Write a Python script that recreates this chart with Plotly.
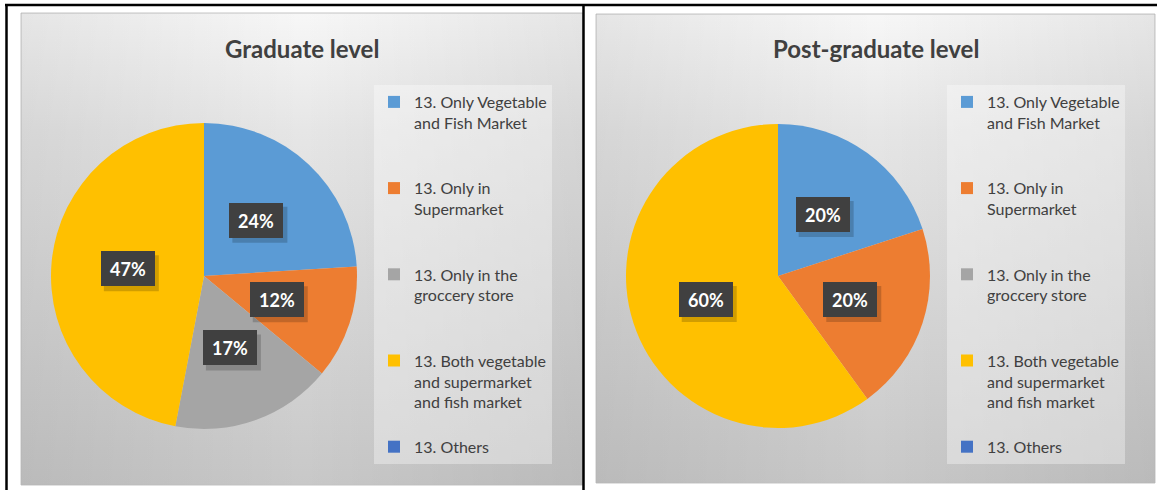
import math
import plotly.graph_objects as go

# ---------------- data ----------------
categories = [
    "13. Only Vegetable and Fish Market",
    "13. Only in Supermarket",
    "13. Only in the groccery store",
    "13. Both vegetable and supermarket and fish market",
    "13. Others",
]
legend_lines = [
    ["13. Only Vegetable", "and Fish Market"],
    ["13. Only in", "Supermarket"],
    ["13. Only in the", "groccery store"],
    ["13. Both vegetable", "and supermarket", "and fish market"],
    ["13. Others"],
]
graduate_values = [24, 12, 17, 47, 0]
postgraduate_values = [20, 20, 0, 60, 0]
panel_titles = ["Graduate level", "Post-graduate level"]
slice_colors = ["#5B9BD5", "#ED7D31", "#A5A5A5", "#FFC000", "#4472C4"]

# ---------------- layout constants (pixels) ----------------
W, H = 1157, 490
FONT = "Lato, 'Open Sans', sans-serif"
TXT = "#404040"

panels = [  # x0, y0, x1, y1
    (21, 13, 583, 485),
    (596, 14, 1155, 483),
]
pie_geo = [  # center x, center y, radius
    (204, 276, 153),
    (778, 276, 152),
]
legend_pos = [(374, 85), (947, 85)]
title_pos = [(302, 49), (876, 49)]


def px(x):
    return x / W


def py(y):
    return 1 - y / H


def pad_label(lines, n, suffix=""):
    lines = list(lines) + ["\u00a0"] * (n - len(lines))
    return "<br>".join(lines) + suffix


fig = go.Figure()

# panel backgrounds (gradient fills on hidden pixel axes)
for (x0, y0, x1, y1) in panels:
    xs = [x0, x1, x1, x0, x0]
    ys = [y0, y0, y1, y1, y0]
    fig.add_trace(go.Scatter(
        x=xs, y=ys, mode="lines", fill="toself",
        line=dict(color="#c4c4c4", width=1),
        fillgradient=dict(type="vertical", start=y0, stop=y1,
                          colorscale=[[0, "#f7f7f7"], [0.25, "#e6e6e6"], [1, "#c8c8c8"]]),
        hoverinfo="skip", showlegend=False,
    ))
    fig.add_trace(go.Scatter(
        x=xs, y=ys, mode="lines", fill="toself",
        line=dict(color="rgba(0,0,0,0)", width=0),
        fillgradient=dict(type="horizontal", start=x0, stop=x1,
                          colorscale=[[0, "rgba(0,0,0,0.07)"], [0.5, "rgba(0,0,0,0)"],
                                      [1, "rgba(0,0,0,0.07)"]]),
        hoverinfo="skip", showlegend=False,
    ))

# pies
annotations = []
shapes = []
BOX_W, BOX_H = 54, 35
for i, vals in enumerate([graduate_values, postgraduate_values]):
    cx, cy, r = pie_geo[i]
    legend_name = "legend" if i == 0 else "legend2"
    suffix = "" if i == 0 else "\u200b"
    labels = [pad_label(l, 4 if k < len(legend_lines) - 1 else 1, suffix)
              for k, l in enumerate(legend_lines)]
    fig.add_trace(go.Pie(
        labels=labels, values=vals, sort=False, direction="clockwise",
        rotation=0, textinfo="none", hoverinfo="percent",
        marker=dict(colors=slice_colors, line=dict(width=0)),
        domain=dict(x=[px(cx - r), px(cx + r)], y=[py(cy + r), py(cy - r)]),
        legend=legend_name, showlegend=True,
    ))
    total = sum(vals)
    cum = 0
    for v in vals:
        if v > 0:
            mid = (cum + v / 2) / total * 2 * math.pi
            lx = cx + 0.5 * r * math.sin(mid)
            ly = cy - 0.5 * r * math.cos(mid)
            label = f"{round(v / total * 100)}%"
            shapes.append(dict(
                type="rect", xref="paper", yref="paper", layer="above",
                x0=px(lx - BOX_W / 2 + 3), x1=px(lx + BOX_W / 2 + 4),
                y0=py(ly - BOX_H / 2 + 4), y1=py(ly + BOX_H / 2 + 5),
                fillcolor="rgba(0,0,0,0.18)", line=dict(width=0),
            ))
            annotations.append(dict(
                x=px(lx), y=py(ly), xref="paper", yref="paper",
                xanchor="center", yanchor="middle",
                text=f"<b>{label}</b>", showarrow=False,
                width=BOX_W - 8, height=BOX_H - 8, borderpad=4, borderwidth=0,
                bgcolor="#404040", font=dict(color="white", size=18, family=FONT),
            ))
        cum += v

# titles
for i, t in enumerate(panel_titles):
    tx, ty = title_pos[i]
    annotations.append(dict(
        x=px(tx), y=py(ty), xref="paper", yref="paper", text=f"<b>{t}</b>",
        xanchor="center", yanchor="middle",
        showarrow=False, font=dict(size=24, color=TXT, family=FONT),
    ))

legend_common = dict(
    bgcolor="rgba(255,255,255,0.35)", borderwidth=0, valign="top",
    font=dict(size=16, color=TXT, family=FONT), xanchor="left", yanchor="top",
    itemclick=False, itemdoubleclick=False,
)

# frame lines
shapes += [
    dict(type="line", xref="paper", yref="paper", x0=px(5), x1=1, y0=py(5), y1=py(5),
         line=dict(color="black", width=2.5)),
    dict(type="line", xref="paper", yref="paper", x0=px(6.5), x1=px(6.5), y0=py(5), y1=0,
         line=dict(color="black", width=2.5)),
    dict(type="line", xref="paper", yref="paper", x0=px(583.5), x1=px(583.5), y0=py(5), y1=0,
         line=dict(color="black", width=2.5)),
]

fig.update_layout(
    width=W, height=H,
    margin=dict(l=0, r=0, t=0, b=0),
    paper_bgcolor="white", plot_bgcolor="rgba(0,0,0,0)",
    xaxis=dict(range=[0, W], visible=False, domain=[0, 1], fixedrange=True),
    yaxis=dict(range=[H, 0], visible=False, domain=[0, 1], fixedrange=True),
    legend=dict(x=px(legend_pos[0][0]), y=py(legend_pos[0][1]), **legend_common),
    legend2=dict(x=px(legend_pos[1][0]), y=py(legend_pos[1][1]), **legend_common),
    annotations=annotations,
    shapes=shapes,
    showlegend=True,
)

fig.write_html("out.html", config={"displayModeBar": False},
               post_script="document.body.style.margin='0';")
